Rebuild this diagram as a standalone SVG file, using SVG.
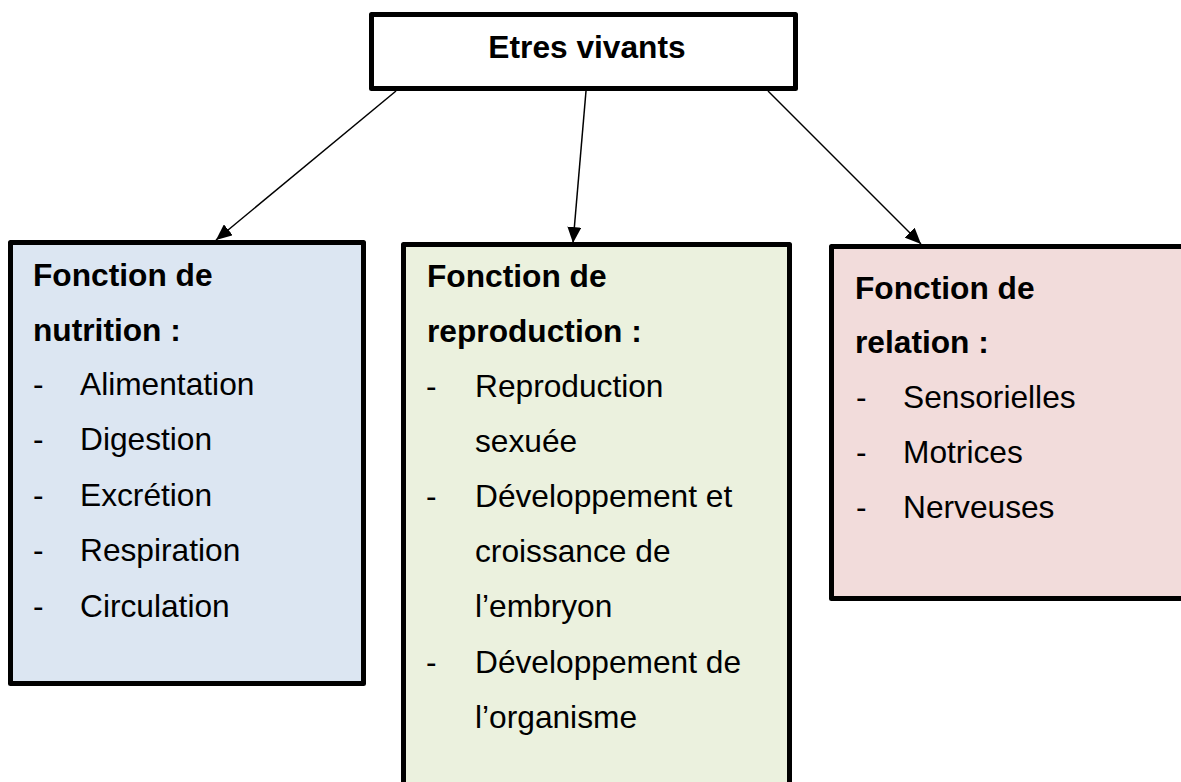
<svg xmlns="http://www.w3.org/2000/svg" width="1181" height="782" viewBox="0 0 1181 782">
<style>
.box{stroke:#000;stroke-width:5;stroke-linejoin:round}
.t{font-family:"Liberation Sans",Arial,sans-serif;font-size:31.7px;fill:#000}
.b{font-weight:bold}
.c{stroke:#000;stroke-width:1.5;fill:none}
</style>
<defs>
<marker id="ah" viewBox="0 0 10 10" refX="10" refY="5" markerWidth="10" markerHeight="10" markerUnits="userSpaceOnUse" orient="auto">
<path d="M0,0 L10,5 L0,10 z" fill="#000"/>
</marker>
<marker id="arr" viewBox="0 0 16 14" refX="16" refY="7" markerWidth="16" markerHeight="14" markerUnits="userSpaceOnUse" orient="auto">
<path d="M0,0 L16,7 L0,14 z" fill="#000"/>
</marker>
</defs>
<rect width="1181" height="782" fill="#fff"/>
<g id="connectors">
<line class="c" x1="396" y1="91" x2="216" y2="240" marker-end="url(#arr)"/>
<line class="c" x1="586" y1="91" x2="573" y2="243" marker-end="url(#arr)"/>
<line class="c" x1="768" y1="91" x2="921" y2="244" marker-end="url(#arr)"/>
</g>
<g id="root">
<rect class="box" x="371.5" y="14.5" width="424" height="74" fill="#fff"/>
<text class="t b" x="587" y="58" text-anchor="middle">Etres vivants</text>
</g>
<g id="nutrition">
<rect class="box" x="10.5" y="242.5" width="353" height="441" fill="#dce6f2"/>
<text class="t b" x="33" y="286">Fonction de</text>
<text class="t b" x="33" y="341">nutrition :</text>
<text class="t" x="33" y="395">-</text><text class="t" x="80" y="395">Alimentation</text>
<text class="t" x="33" y="450">-</text><text class="t" x="80" y="450">Digestion</text>
<text class="t" x="33" y="506">-</text><text class="t" x="80" y="506">Excrétion</text>
<text class="t" x="33" y="561">-</text><text class="t" x="80" y="561">Respiration</text>
<text class="t" x="33" y="617">-</text><text class="t" x="80" y="617">Circulation</text>
</g>
<g id="reproduction">
<rect class="box" x="403.5" y="244.5" width="386" height="560" fill="#ebf1de"/>
<text class="t b" x="427" y="287">Fonction de</text>
<text class="t b" x="427" y="342">reproduction :</text>
<text class="t" x="426" y="397">-</text><text class="t" x="475" y="397">Reproduction</text>
<text class="t" x="475" y="452">sexuée</text>
<text class="t" x="426" y="507">-</text><text class="t" x="475" y="507">Développement et</text>
<text class="t" x="475" y="562">croissance de</text>
<text class="t" x="475" y="617">l’embryon</text>
<text class="t" x="426" y="673">-</text><text class="t" x="475" y="673">Développement de</text>
<text class="t" x="475" y="728">l’organisme</text>
</g>
<g id="relation">
<rect class="box" x="831.5" y="246.5" width="370" height="352" fill="#f2dcdb"/>
<text class="t b" x="855" y="299">Fonction de</text>
<text class="t b" x="855" y="353">relation :</text>
<text class="t" x="856" y="408">-</text><text class="t" x="903" y="408">Sensorielles</text>
<text class="t" x="856" y="463">-</text><text class="t" x="903" y="463">Motrices</text>
<text class="t" x="856" y="518">-</text><text class="t" x="903" y="518">Nerveuses</text>
</g>
</svg>
